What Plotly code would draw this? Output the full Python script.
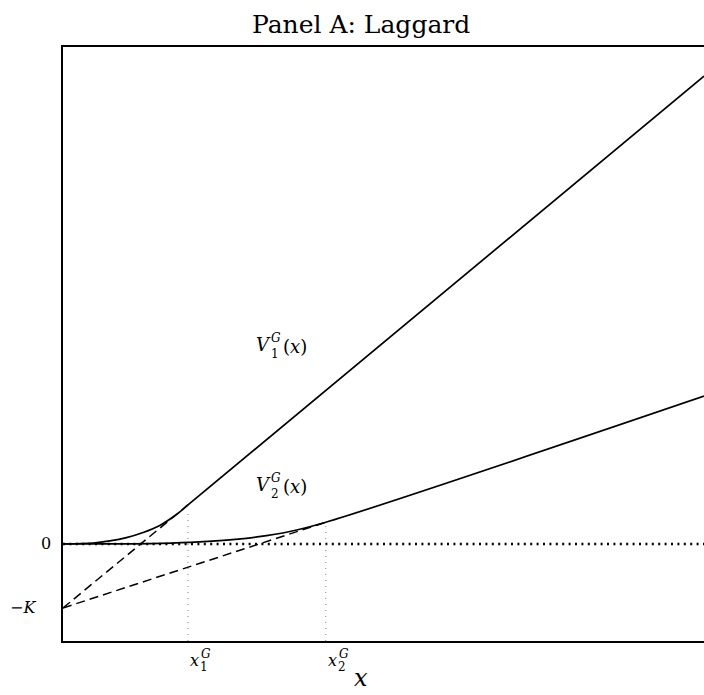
import plotly.graph_objects as go

# ---- data ----
K = 1.0
x_range = [0.0, 10.0]
y_range = [-1.516, 7.766]

v1_x = [0.0, 0.47, 0.73, 0.99, 1.25, 1.51, 1.77, 1.95, 10.0]
v1_y = [0.0, 0.015, 0.048, 0.10, 0.18, 0.29, 0.46, 0.61, 7.31]

v2_x = [0.0, 0.58, 1.36, 1.98, 2.50, 3.03, 3.54, 4.10, 10.0]
v2_y = [0.0, 0.001, 0.006, 0.024, 0.055, 0.11, 0.195, 0.34, 2.31]

x1G, v1_at_x1G = 1.95, 0.61
x2G, v2_at_x2G = 4.10, 0.34

dash1_x = [0.0, x1G]
dash1_y = [-K, v1_at_x1G]
dash2_x = [0.0, x2G]
dash2_y = [-K, v2_at_x2G]

zero_x = [0.0, 10.0]
zero_y = [0.0, 0.0]

ytick_vals = [0.0, -K]
ytick_text = ["0", "\u2212<i>K</i>"]
xtick_vals = [x1G, x2G]
xtick_sub = ["1", "2"]

# ---- geometry helpers (pixel -> paper) ----
W, H = 704, 695
ML, MR, MT, MB = 63, 0, 47, 54
PW, PH = W - ML - MR, H - MT - MB


def pxp(x):
    return (x - ML) / PW


def pyp(y):
    return (H - MB - y) / PH


FONT = "DejaVu Serif"

fig = go.Figure()

# zero reference line (dotted)
fig.add_trace(go.Scatter(x=zero_x, y=zero_y, mode="lines",
                         line=dict(color="black", width=2.6, dash="2px,4.4px"),
                         hoverinfo="skip", showlegend=False))
# dashed tangent extensions
fig.add_trace(go.Scatter(x=dash1_x, y=dash1_y, mode="lines",
                         line=dict(color="black", width=1.5, dash="9px,5px"),
                         showlegend=False))
fig.add_trace(go.Scatter(x=dash2_x, y=dash2_y, mode="lines",
                         line=dict(color="black", width=1.5, dash="9px,5px"),
                         showlegend=False))
# value functions
fig.add_trace(go.Scatter(x=v1_x, y=v1_y, mode="lines", line_shape="spline",
                         line=dict(color="black", width=1.7), showlegend=False))
fig.add_trace(go.Scatter(x=v2_x, y=v2_y, mode="lines", line_shape="spline",
                         line=dict(color="black", width=1.7), showlegend=False))

# vertical dotted thresholds
for xv, top in [(x1G, 0.5), (x2G, 0.3)]:
    fig.add_shape(type="line", xref="x", yref="y", x0=xv, x1=xv,
                  y0=y_range[0], y1=top,
                  line=dict(color="#808080", width=1, dash="1px,5px"))

ann = []


def txt(text, x, y, size, xanchor="left", yanchor="middle", xref="paper", yref="paper"):
    ann.append(dict(text=text, x=x, y=y, xref=xref, yref=yref, showarrow=False,
                    xanchor=xanchor, yanchor=yanchor,
                    font=dict(family=FONT, size=size, color="black")))


# title
txt("Panel A: Laggard", pxp(360.5), pyp(24), 25, xanchor="center")
# axis title
txt("<i>x</i>", pxp(361), pyp(694), 24, xanchor="center", yanchor="bottom")

# y tick labels
txt(ytick_text[0], pxp(45.5), ytick_vals[0], 16, xanchor="center", yref="y")
txt(ytick_text[1], pxp(23), ytick_vals[1], 16, xanchor="center", yref="y")

# x tick labels (x with stacked G / index)
for xv, sub in zip(xtick_vals, xtick_sub):
    txt("<i>x</i>", xv, pyp(660), 16, xanchor="left", xref="x")
    txt("<i>G</i>", xv + 11 / 64.1, pyp(654), 12, xanchor="left", xref="x")
    txt(sub, xv + 10 / 64.1, pyp(667), 12, xanchor="left", xref="x")

# curve labels
for base, sub in [(0, "1"), (140, "2")]:
    txt("<i>V</i>", pxp(254), pyp(344 + base), 18)
    txt("<i>G</i>", pxp(269), pyp(338 + base), 12)
    txt(sub, pxp(269), pyp(354 + base), 12)
    txt("(<i>x</i>)", pxp(281), pyp(346 + base), 18)

fig.update_layout(
    width=W, height=H,
    margin=dict(l=ML, r=MR, t=MT, b=MB, pad=0),
    paper_bgcolor="white", plot_bgcolor="white",
    showlegend=False,
    annotations=ann,
    xaxis=dict(range=x_range, showline=True, linecolor="black", linewidth=1.5,
               mirror=True, showgrid=False, zeroline=False, ticks="",
               showticklabels=False, fixedrange=True),
    yaxis=dict(range=y_range, showline=True, linecolor="black", linewidth=1.5,
               mirror=False, showgrid=False, zeroline=False, ticks="",
               showticklabels=False, fixedrange=True),
)

fig.write_html(
    "out.html",
    config={"displayModeBar": False},
    post_script="document.body.style.margin='0';document.body.style.overflow='hidden';"
                "document.documentElement.style.overflow='hidden';",
)
